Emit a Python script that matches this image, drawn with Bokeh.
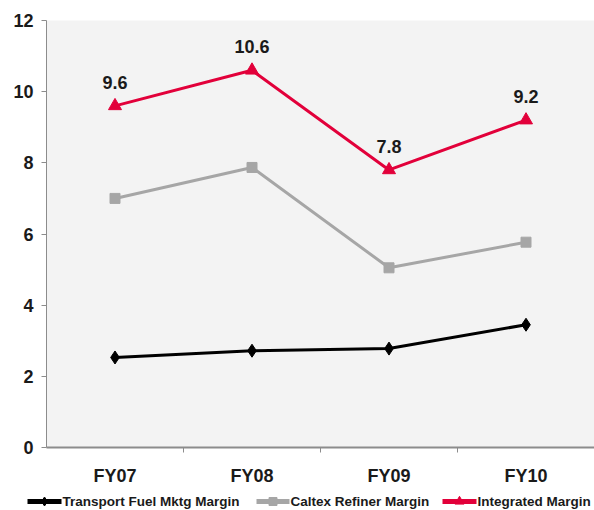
from bokeh.plotting import figure
from bokeh.layouts import column
from bokeh.models import Range1d, FixedTicker, ColumnDataSource, LabelSet
from bokeh.core.properties import value
from bokeh.embed import file_html
from bokeh.resources import INLINE

categories = ["FY07", "FY08", "FY09", "FY10"]
transport = [2.53, 2.72, 2.78, 3.45]
refiner = [7.0, 7.87, 5.05, 5.77]
integrated = [9.6, 10.6, 7.8, 9.2]
integrated_labels = ["9.6", "10.6", "7.8", "9.2"]
y_ticks = [0, 2, 4, 6, 8, 10, 12]
series_names = ["Transport Fuel Mktg Margin", "Caltex Refiner Margin", "Integrated Margin"]

x = list(range(len(categories)))
FONT = "Liberation Sans"
TXT = "#1a1a1a"
RED = "#e2003a"
GRAY = "#a6a6a6"
BLACK = "#000000"

p = figure(width=594, height=490, output_backend="svg", toolbar_location=None,
           x_range=Range1d(-0.5, 3.5), y_range=Range1d(0, 12),
           min_border_left=46, min_border_right=0, min_border_top=20, min_border_bottom=43)
p.frame_align = False
p.background_fill_color = "#f3f3f3"
p.border_fill_color = "white"
p.outline_line_color = None
p.xgrid.visible = False
p.ygrid.visible = False

# y axis
p.yaxis.ticker = FixedTicker(ticks=y_ticks)
p.yaxis.axis_line_color = "#8c8c8c"
p.yaxis.major_tick_line_color = "#8c8c8c"
p.yaxis.major_tick_out = 5
p.yaxis.major_tick_in = 0
p.yaxis.minor_tick_line_color = None
p.yaxis.major_label_text_font = FONT
p.yaxis.major_label_text_font_style = "bold"
p.yaxis.major_label_text_font_size = "18px"
p.yaxis.major_label_text_color = TXT
p.yaxis.major_label_standoff = 8

# x axis
p.xaxis.ticker = FixedTicker(ticks=x, minor_ticks=[0.5, 1.5, 2.5])
p.xaxis.major_label_overrides = {i: c for i, c in zip(x, categories)}
p.xaxis.axis_line_color = "#8c8c8c"
p.xaxis.axis_line_width = 2
p.xaxis.major_tick_line_color = None
p.xaxis.major_tick_out = 0
p.xaxis.major_tick_in = 0
p.xaxis.minor_tick_line_color = "#8c8c8c"
p.xaxis.minor_tick_out = 5
p.xaxis.minor_tick_in = 0
p.xaxis.major_label_text_font = FONT
p.xaxis.major_label_text_font_style = "bold"
p.xaxis.major_label_text_font_size = "18px"
p.xaxis.major_label_text_color = TXT
p.xaxis.major_label_standoff = 13

p.line(x, transport, line_color=BLACK, line_width=3)
p.scatter(x, transport, marker="diamond", size=13, color=BLACK)
p.line(x, refiner, line_color=GRAY, line_width=3)
p.scatter(x, refiner, marker="square", size=10, color=GRAY)
p.line(x, integrated, line_color=RED, line_width=3)
p.scatter(x, integrated, marker="triangle", size=13, color=RED)

src = ColumnDataSource(dict(x=x, y=integrated, t=integrated_labels))
labels = LabelSet(x="x", y="y", text="t", source=src, y_offset=17,
                  text_align="center", text_baseline="alphabetic",
                  text_font=value(FONT), text_font_style="bold", text_font_size="18px",
                  text_color=TXT)
p.add_layout(labels)

# legend strip (separate figure, pixel coordinates)
lg = figure(width=594, height=20, output_backend="svg", toolbar_location=None,
            x_range=Range1d(0, 594), y_range=Range1d(0, 20),
            x_axis_location=None, y_axis_location=None,
            min_border_left=0, min_border_right=0, min_border_top=0, min_border_bottom=0)
lg.frame_align = False
lg.xgrid.visible = False
lg.ygrid.visible = False
lg.outline_line_color = None
lg.background_fill_color = "white"
lg.border_fill_color = "white"

leg_line_x0 = [27, 256, 442]
leg_line_x1 = [61, 289, 476]
leg_text_x = [62, 290, 477]
leg_colors = [BLACK, GRAY, RED]
leg_markers = ["diamond", "square", "triangle"]
leg_sizes = [9, 8, 9]
ly = 9
for x0, x1, c, mk, sz in zip(leg_line_x0, leg_line_x1, leg_colors, leg_markers, leg_sizes):
    lg.segment(x0=[x0], y0=[ly], x1=[x1], y1=[ly], line_color=c, line_width=5)
    lg.scatter([(x0 + x1) / 2], [ly], marker=mk, size=sz, color=c)
lg.text(x=leg_text_x, y=[ly] * 3, text=series_names, text_font=value(FONT),
        text_font_style="bold", text_font_size="13.5px", text_color=TXT,
        text_baseline="middle", text_align="left")

layout = column(p, lg, spacing=0)
open("out.html", "w").write(file_html(layout, INLINE))
